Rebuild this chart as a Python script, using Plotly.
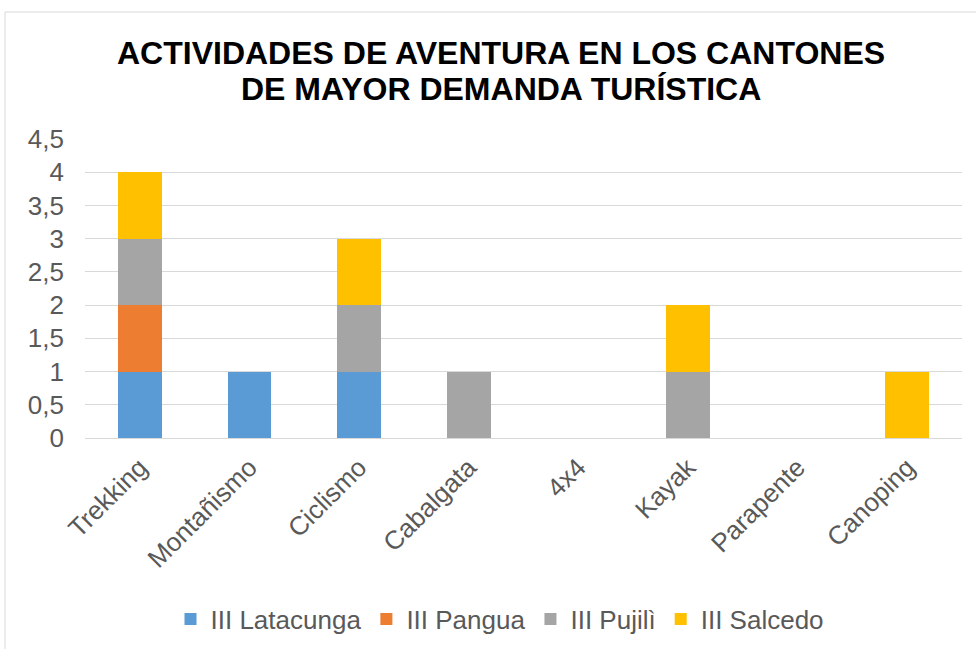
import plotly.graph_objects as go

# Activities (x categories) and the number of cantons offering each one
actividades = ["Trekking", "Montañismo", "Ciclismo", "Cabalgata",
               "4x4", "Kayak", "Parapente", "Canoping"]

latacunga = [1, 1, 1, 0, 0, 0, 0, 0]
pangua = [1, 0, 0, 0, 0, 0, 0, 0]
pujili = [1, 0, 1, 1, 0, 1, 0, 0]
salcedo = [1, 0, 1, 0, 0, 1, 0, 1]

series = [
    ("III Latacunga", latacunga, "#5B9BD5"),
    ("III Pangua", pangua, "#ED7D31"),
    ("III Pujilì", pujili, "#A5A5A5"),
    ("III Salcedo", salcedo, "#FFC000"),
]

title_lines = ["ACTIVIDADES DE AVENTURA EN LOS CANTONES",
               "DE MAYOR DEMANDA TURÍSTICA"]

y_ticks = [0, 0.5, 1, 1.5, 2, 2.5, 3, 3.5, 4, 4.5]

W, H = 976, 649
L, R, T, B = 85, 14, 139, 211
pw, ph = W - L - R, H - T - B


def px_x(x):
    return (x - L) / pw


def px_y(y):
    return (H - B - y) / ph


fig = go.Figure()
for name, vals, color in series:
    fig.add_trace(go.Bar(
        x=actividades, y=vals, name=name,
        marker=dict(color=color, line=dict(width=0)),
    ))

text_color = "#595959"
font_family = "Liberation Sans, Arial, sans-serif"

# two-line bold title, one annotation per line
title_annotations = [
    dict(text=line, xref="paper", yref="paper",
         x=px_x(501), y=px_y(yc), xanchor="center", yanchor="middle",
         showarrow=False,
         font=dict(family=font_family, size=32, color="#000000", weight="bold"))
    for line, yc in zip(title_lines, [53, 89])
]

fig.update_layout(
    width=W, height=H,
    margin=dict(l=L, r=R, t=T, b=B, pad=0, autoexpand=False),
    barmode="stack",
    bargap=0.6,
    separators=",.",
    paper_bgcolor="white",
    plot_bgcolor="white",
    font=dict(family=font_family, color=text_color, size=26),
    annotations=title_annotations,
    xaxis=dict(
        tickangle=-45,
        tickfont=dict(size=26, color=text_color),
        showgrid=False, showline=False, zeroline=False,
        ticks="",
        ticklabelstandoff=8,
        automargin=False,
    ),
    yaxis=dict(
        range=[0, 4.5],
        tickvals=y_ticks,
        tickfont=dict(size=26, color=text_color),
        showgrid=True, gridcolor="#D9D9D9", gridwidth=1,
        zeroline=True, zerolinecolor="#D9D9D9", zerolinewidth=1,
        showline=False, ticks="",
        ticklabelstandoff=20,
        automargin=False,
    ),
    legend=dict(
        orientation="h",
        x=px_x(500), xanchor="center",
        y=px_y(619), yanchor="middle",
        font=dict(size=26, color=text_color),
        traceorder="normal",
        itemwidth=30,
    ),
    shapes=[dict(
        type="rect", xref="paper", yref="paper",
        x0=px_x(5), x1=px_x(990), y0=px_y(660), y1=px_y(12),
        line=dict(color="#D9D9D9", width=1), fillcolor="rgba(0,0,0,0)",
        layer="below",
    )],
)

fig.write_html("out.html")
